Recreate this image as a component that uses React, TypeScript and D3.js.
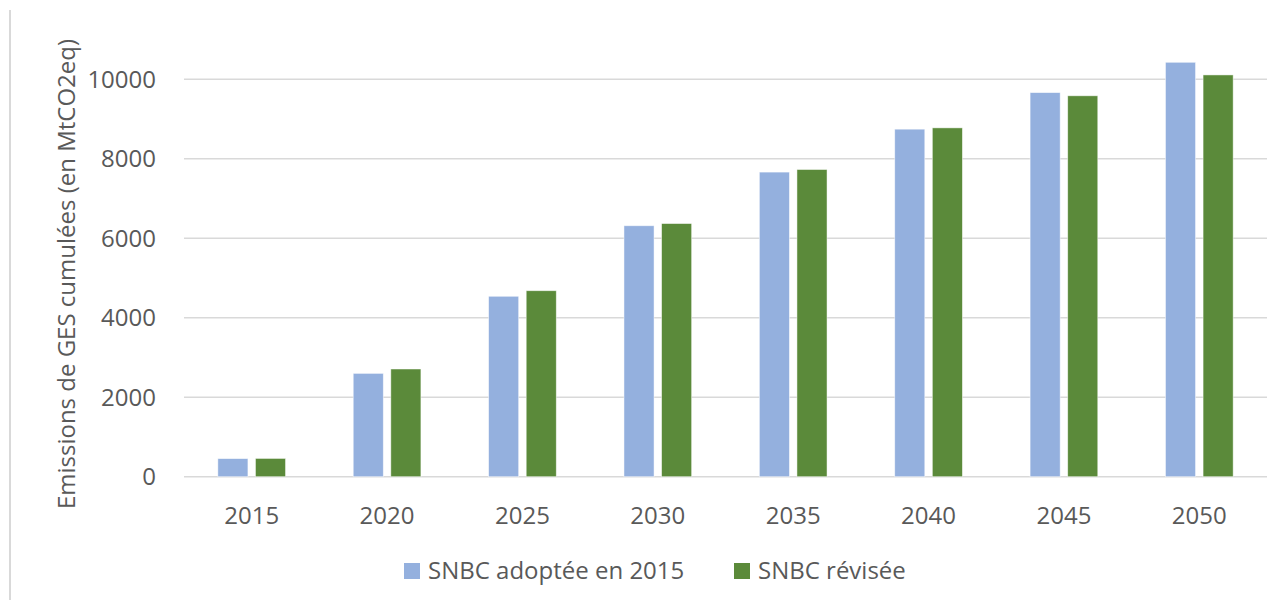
import React from "react";
import * as d3 from "d3";

const years = ["2015", "2020", "2025", "2030", "2035", "2040", "2045", "2050"];
const seriesNames = ["SNBC adoptée en 2015", "SNBC révisée"];
const adopted2015 = [455, 2600, 4540, 6315, 7665, 8745, 9665, 10428];
const revised = [460, 2710, 4680, 6370, 7730, 8778, 9585, 10110];
const yTicks = [0, 2000, 4000, 6000, 8000, 10000];
const colors = ["#94B0DE", "#5B8A3A"];
const yLabel = "Emissions de GES cumulées (en MtCO2eq)";

const W = 1284;
const H = 600;
const plotLeft = 184;
const plotRight = 1267;
const y0px = 476.7;
const y10kpx = 79.3;
const FONT = "'Open Sans', 'Noto Sans', sans-serif";
const TXT = "#595959";
const FS = 24;

export default function App() {
  const x0 = d3.scaleBand<string>().domain(years).range([plotLeft, plotRight]).padding(0);
  const bw = x0.bandwidth();
  const x1 = d3
    .scaleBand<number>()
    .domain([0, 1])
    .range([bw * 0.25, bw * 0.75])
    .paddingInner(0.2);
  const y = d3.scaleLinear().domain([0, 10000]).range([y0px, y10kpx]);
  const data = [adopted2015, revised];

  return (
    <svg
      width={W}
      height={H}
      style={{ position: "absolute", left: 0, top: 0, background: "#fff" }}
      fontFamily={FONT}
    >
      <rect x={0} y={0} width={W} height={H} fill="#fff" />
      <line x1={10} x2={10} y1={10} y2={H} stroke="#d9d9d9" strokeWidth={2} />
      {yTicks.map((t) => (
        <g key={t}>
          <line
            x1={plotLeft}
            x2={plotRight}
            y1={y(t)}
            y2={y(t)}
            stroke="#d9d9d9"
            strokeWidth={1.5}
          />
          <text
            x={156}
            y={y(t)}
            dy="0.35em"
            textAnchor="end"
            fontSize={FS}
            fill={TXT}
          >
            {t}
          </text>
        </g>
      ))}
      {data.map((vals, si) =>
        years.map((yr, i) => (
          <rect
            key={si + "-" + yr}
            x={(x0(yr) as number) + (x1(si) as number)}
            y={y(vals[i])}
            width={x1.bandwidth()}
            height={y(0) - y(vals[i])}
            fill={colors[si]}
            stroke="#ffffff"
            strokeOpacity={0.6}
            strokeWidth={0.8}
          />
        ))
      )}
      {years.map((yr) => (
        <text
          key={yr}
          x={(x0(yr) as number) + bw / 2}
          y={516}
          dy="0.35em"
          textAnchor="middle"
          fontSize={FS}
          fill={TXT}
        >
          {yr}
        </text>
      ))}
      <text
        transform={`translate(67, ${274}) rotate(-90)`}
        textAnchor="middle"
        dy="0.35em"
        fontSize={FS}
        fill={TXT}
      >
        {yLabel}
      </text>
      {/* legend */}
      {seriesNames.map((name, i) => {
        const lx = [404, 734][i];
        return (
          <g key={name}>
            <rect x={lx} y={563} width={16} height={16} fill={colors[i]} />
            <text x={lx + 24} y={571} dy="0.35em" fontSize={FS} fill={TXT}>
              {name}
            </text>
          </g>
        );
      })}
    </svg>
  );
}
